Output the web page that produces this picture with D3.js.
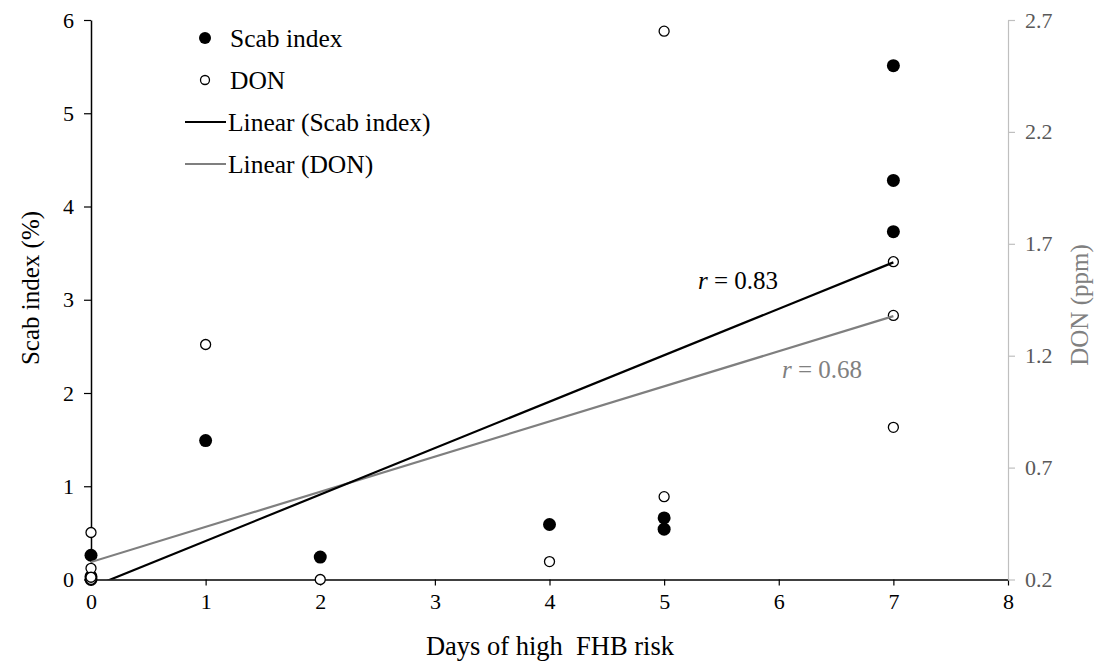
<!DOCTYPE html>
<html>
<head>
	<meta charset="utf-8" />
	<title>Scab index and DON vs days of high FHB risk</title>
	<script src="https://cdn.jsdelivr.net/npm/d3@7"></script>
	<style>
		body { margin: 0; background: #fff; }
		svg text { font-family: "Liberation Serif", "Times New Roman", serif; }
	</style>
</head>
<body>
	<div id="chart"></div>
	<script type="text/javascript">
		// days of high FHB risk for each plot
		var scabDays = [0, 0, 0, 1, 2, 4, 5, 5, 7, 7, 7];
		var scabValues = [0.26, 0.03, 0.0, 1.49, 0.24, 0.59, 0.66, 0.54, 5.51, 4.28, 3.73];
		var donDays = [0, 0, 0, 0, 1, 2, 4, 5, 5, 7, 7, 7];
		var donValues = [0.41, 0.25, 0.2, 0.21, 1.25, 0.2, 0.28, 0.57, 2.65, 1.62, 1.38, 0.88];

		// trend lines: [intercept, slope]
		var scabFit = [-0.085, 0.498];
		var donFit = [0.278, 0.157];

		var xTicks = [0, 1, 2, 3, 4, 5, 6, 7, 8];
		var yLeftTicks = [0, 1, 2, 3, 4, 5, 6];
		var yRightTicks = [0.2, 0.7, 1.2, 1.7, 2.2, 2.7];

		var width = 1104, height = 662;
		var plotL = 91, plotR = 1008, plotT = 20, plotB = 579.5;

		var svg = d3.select("#chart").append("svg")
			.attr("width", width)
			.attr("height", height);

		var x = d3.scaleLinear().domain([0, 8]).range([plotL, plotR]);
		var yL = d3.scaleLinear().domain([0, 6]).range([plotB, plotT]);
		var yR = d3.scaleLinear().domain([0.2, 2.7]).range([plotB, plotT]);

		// axes
		var xAxis = svg.append("g")
			.attr("transform", "translate(0," + plotB + ")")
			.call(d3.axisBottom(x).tickValues(xTicks).tickSize(6).tickSizeOuter(0).tickFormat(d3.format("d")));
		xAxis.select(".domain").attr("stroke", "#000").attr("stroke-width", 1.5);
		xAxis.selectAll(".tick line").attr("stroke", "#000").attr("stroke-width", 1.2);
		xAxis.selectAll(".tick text").attr("font-size", 22).attr("fill", "#000").attr("dy", "0.95em");

		var yAxisL = svg.append("g")
			.attr("transform", "translate(" + plotL + ",0)")
			.call(d3.axisLeft(yL).tickValues(yLeftTicks).tickSize(7).tickSizeOuter(0).tickFormat(d3.format("d")));
		yAxisL.select(".domain").attr("stroke", "#000").attr("stroke-width", 1.5);
		yAxisL.selectAll(".tick line").attr("stroke", "#000").attr("stroke-width", 1.2);
		yAxisL.selectAll(".tick text").attr("font-size", 22).attr("fill", "#000").attr("x", -17);

		var yAxisR = svg.append("g")
			.attr("transform", "translate(" + plotR + ",0)")
			.call(d3.axisRight(yR).tickValues(yRightTicks).tickSize(7).tickSizeOuter(0).tickFormat(d3.format(".1f")));
		yAxisR.select(".domain").attr("stroke", "#bfbfbf").attr("stroke-width", 1.2);
		yAxisR.selectAll(".tick line").attr("stroke", "#bfbfbf").attr("stroke-width", 1.2);
		yAxisR.selectAll(".tick text").attr("font-size", 22).attr("fill", "#595959").attr("x", 17);

		// axis titles
		svg.append("text")
			.attr("transform", "translate(39,288) rotate(-90)")
			.attr("text-anchor", "middle")
			.attr("font-size", 25)
			.attr("fill", "#000")
			.text("Scab index (%)");

		svg.append("text")
			.attr("transform", "translate(1088,305) rotate(-90)")
			.attr("text-anchor", "middle")
			.attr("font-size", 25)
			.attr("fill", "#808080")
			.text("DON (ppm)");

		svg.append("text")
			.attr("x", 550)
			.attr("y", 655)
			.attr("text-anchor", "middle")
			.attr("font-size", 26.5)
			.attr("fill", "#000")
			.style("white-space", "pre")
			.text("Days of high  FHB risk");

		// points
		var scabPts = scabDays.map(function(d, i) { return [d, scabValues[i]]; });
		var donPts = donDays.map(function(d, i) { return [d, donValues[i]]; });

		svg.append("g").selectAll("circle")
			.data(scabPts)
			.enter().append("circle")
			.attr("cx", function(d) { return x(d[0]); })
			.attr("cy", function(d) { return yL(d[1]); })
			.attr("r", 6.5)
			.attr("fill", "#000");

		svg.append("g").selectAll("circle")
			.data(donPts)
			.enter().append("circle")
			.attr("cx", function(d) { return x(d[0]); })
			.attr("cy", function(d) { return yR(d[1]); })
			.attr("r", 5)
			.attr("fill", "#fff")
			.attr("stroke", "#000")
			.attr("stroke-width", 1.3);

		// trend lines
		svg.append("defs").append("clipPath").attr("id", "plotClip")
			.append("rect").attr("x", plotL).attr("y", plotT).attr("width", plotR - plotL).attr("height", plotB - plotT);

		var line = d3.line();
		var scabLine = [0, 7].map(function(d) { return [x(d), yL(scabFit[0] + scabFit[1] * d)]; });
		var donLine = [0, 7].map(function(d) { return [x(d), yR(donFit[0] + donFit[1] * d)]; });

		svg.append("path")
			.attr("d", line(donLine))
			.attr("clip-path", "url(#plotClip)")
			.attr("fill", "none")
			.attr("stroke", "#7f7f7f")
			.attr("stroke-width", 2.2);

		svg.append("path")
			.attr("d", line(scabLine))
			.attr("clip-path", "url(#plotClip)")
			.attr("fill", "none")
			.attr("stroke", "#000")
			.attr("stroke-width", 2.2);

		// r labels
		var r1 = svg.append("text").attr("x", 698).attr("y", 289).attr("font-size", 25).attr("fill", "#000");
		r1.append("tspan").attr("font-style", "italic").text("r");
		r1.append("tspan").text(" = 0.83");

		var r2 = svg.append("text").attr("x", 782).attr("y", 378).attr("font-size", 25).attr("fill", "#808080");
		r2.append("tspan").attr("font-style", "italic").text("r");
		r2.append("tspan").text(" = 0.68");

		// legend
		var legend = svg.append("g");
		legend.append("circle").attr("cx", 205).attr("cy", 38).attr("r", 6).attr("fill", "#000");
		legend.append("circle").attr("cx", 205).attr("cy", 80).attr("r", 4.5)
			.attr("fill", "#fff").attr("stroke", "#000").attr("stroke-width", 1.3);
		legend.append("line").attr("x1", 185).attr("x2", 226).attr("y1", 122).attr("y2", 122)
			.attr("stroke", "#000").attr("stroke-width", 2.2);
		legend.append("line").attr("x1", 185).attr("x2", 226).attr("y1", 164).attr("y2", 164)
			.attr("stroke", "#7f7f7f").attr("stroke-width", 2.2);

		var legendLabels = ["Scab index", "DON", "Linear (Scab index)", "Linear (DON)"];
		legend.selectAll("text.lab")
			.data(legendLabels)
			.enter().append("text")
			.attr("class", "lab")
			.attr("x", function(d, i) { return i < 2 ? 230 : 228; })
			.attr("y", function(d, i) { return 38 + 42 * i; })
			.attr("dy", "0.35em")
			.attr("font-size", 25.5)
			.attr("fill", "#000")
			.text(function(d) { return d; });
	</script>
</body>
</html>
